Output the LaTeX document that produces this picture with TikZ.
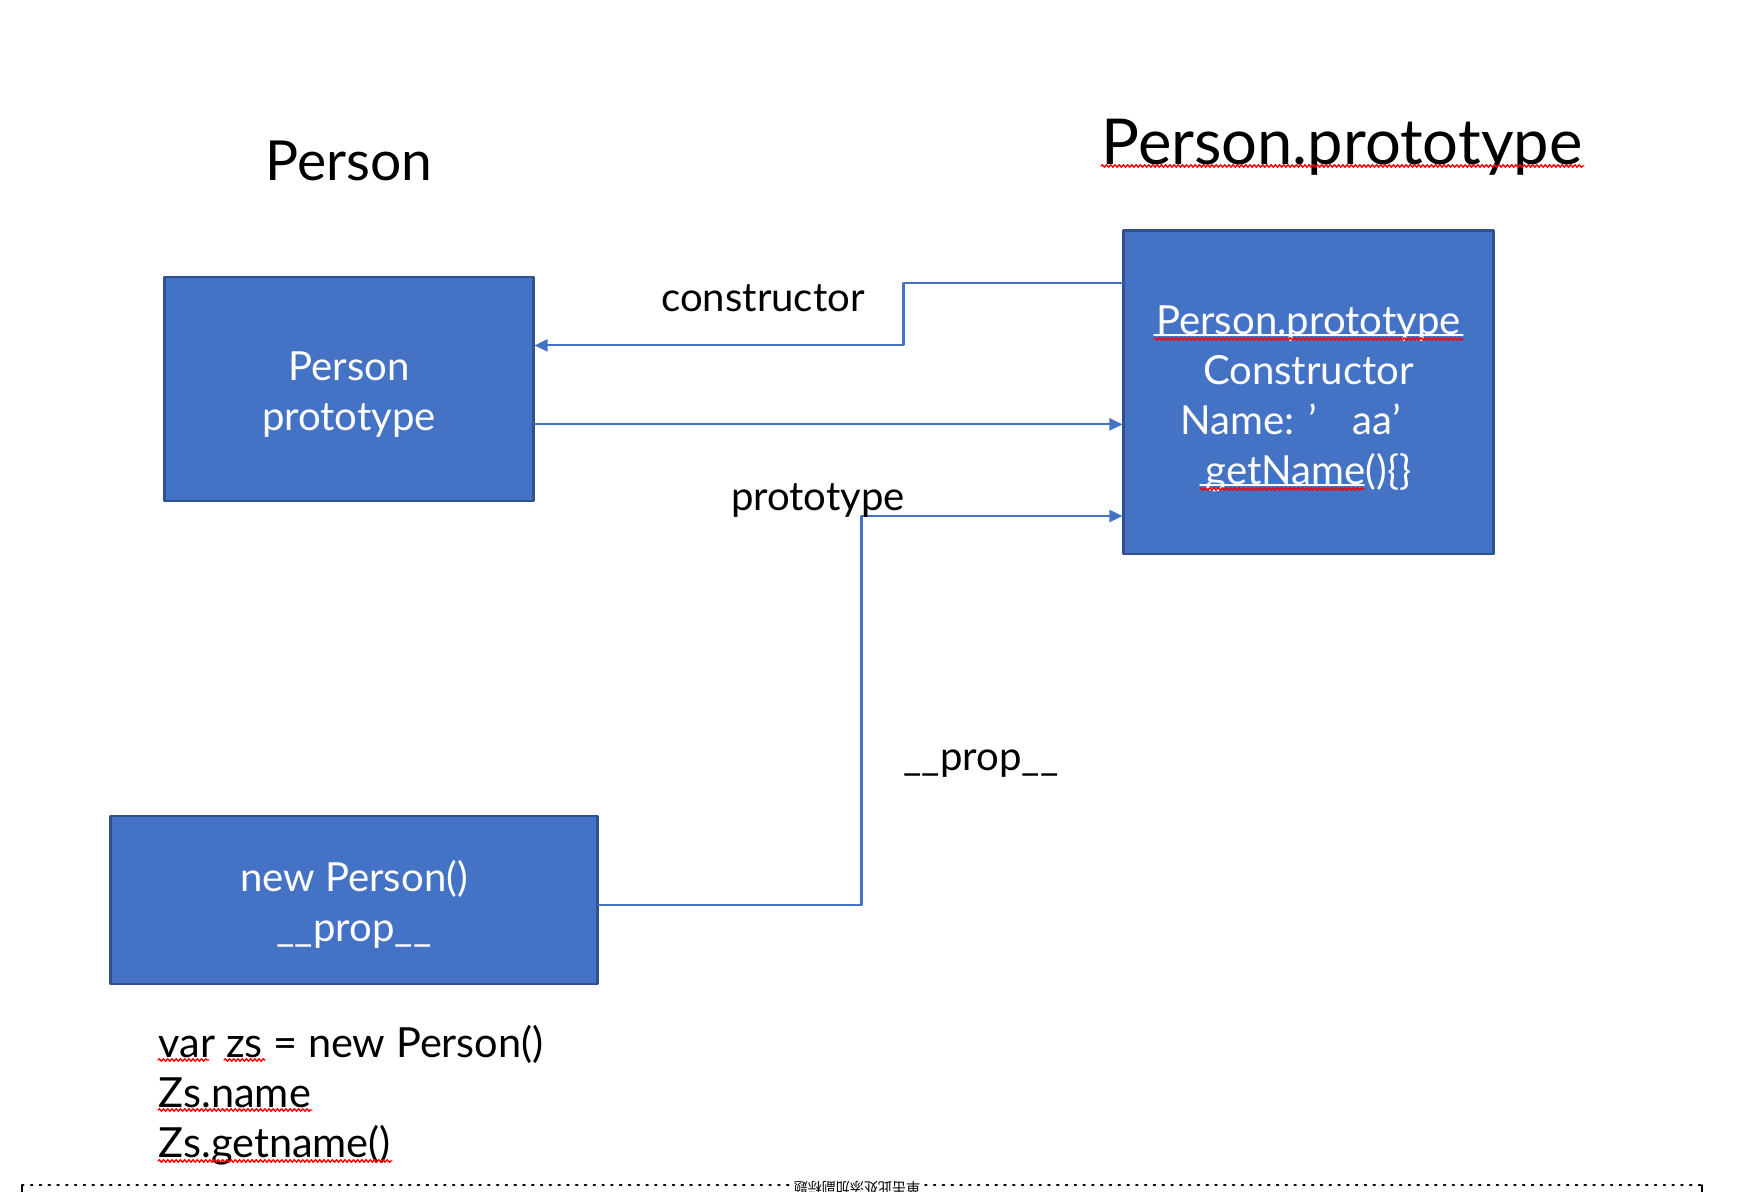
\documentclass[tikz,border=0pt]{standalone}
\usepackage{fontspec}
\setmainfont{Lato}
\newfontfamily\cjk{Noto Sans CJK SC}
\usetikzlibrary{arrows.meta,calc,decorations.pathmorphing}
\definecolor{boxblue}{HTML}{4472C4}
\definecolor{boxedge}{HTML}{2F528F}
\newcommand{\toppad}{\rule{0pt}{11.6pt}}

\begin{document}
\begin{tikzpicture}[line cap=round,line join=round,>={Triangle[length=3.7pt,width=3.4pt]},x=0.01cm,y=-0.01cm]
\tikzstyle{blockbox}=[draw=boxedge,fill=boxblue,line width=0.8pt,text=white,align=center,font=\fontsize{11.4}{14.2}\selectfont,inner sep=0pt]
\tikzstyle{link}=[draw=boxblue,line width=0.6pt,->]
\tikzstyle{lbl}=[font=\fontsize{11.4}{14.2}\selectfont,inner sep=0pt]
\tikzstyle{spell}=[draw=red,line width=0.4pt,decorate,decoration={snake,segment length=1.2pt,amplitude=0.35pt}]
\clip (0,0) rectangle (1756,1192);
\fill[white] (0,0) rectangle (1756,1192);
% titles
\node[font=\fontsize{15.7}{18}\selectfont,anchor=base] (persontitle) at (349,181) {Person};
\node[font=\fontsize{18}{21}\selectfont,anchor=base] (prototitle) at (1342,165) {Person.prototype};
% boxes
\node[blockbox,minimum width=3.68cm,minimum height=2.24cm] (person) at (349,389) {\toppad Person\\prototype};
\node[blockbox,minimum width=3.69cm,minimum height=3.23cm] (proto) at (1308.5,392.5)
  {\toppad Person.prototype\\Constructor\\Name: ’\hspace{0.9em}aa’\kern0.36cm\\getName()\{\}};
\node[blockbox,minimum width=4.86cm,minimum height=1.68cm] (zs) at (354,900) {\toppad new Person()\\\_\_prop\_\_};
% white underlines in the prototype box
\draw[white,line width=0.4pt] (1154,335) -- (1463,335);
\draw[white,line width=0.4pt] (1200,485) -- (1364,485);
% connectors
\coordinate (ctorstart) at ($(proto.north west)!0.165!(proto.south west)$);
\coordinate (ctorend) at ($(person.north east)!0.308!(person.south east)$);
\draw[link] (ctorstart) -- ++(-219,0) |- (ctorend);
\coordinate (protostart) at ($(person.north east)!0.656!(person.south east)$);
\draw[link] (protostart) -- (protostart -| proto.west);
\coordinate (propstart) at ($(zs.north east)!0.53!(zs.south east)$);
\coordinate (propend) at ($(proto.north west)!0.879!(proto.south west)$);
\draw[link] (propstart) -- ++(263,0) |- (propend);
% labels
\node[lbl] (ctorlbl) at (763,298) {constructor};
\node[lbl] (protolbl) at (818,500) {prototype};
\node[lbl] (proplbl) at (981,764) {\_\_prop\_\_};
\node[lbl,font=\fontsize{11.8}{14.2}\selectfont,align=left,anchor=west] (code) at (158,1095) {var zs = new Person()\\Zs.name\\Zs.getname()};
% spell check marks
\foreach \xa/\xb/\yy in {1101/1584/166, 1154/1463/339, 1200/1364/489, 158/209/1060, 224/265/1060, 158/312/1110, 158/392/1161}
  \draw[spell] (\xa,\yy) -- (\xb,\yy);
% footer
\draw[line width=0.5pt,dotted] (22,1185) -- (790,1185);
\draw[line width=0.5pt,dotted] (925,1185) -- (1702,1185);
\draw[line width=0.4pt] (22,1185) -- (22,1192);
\draw[line width=0.4pt] (1702,1185) -- (1702,1192);
\node[font=\cjk\fontsize{4}{4}\selectfont,rotate=180,inner sep=0pt] (subtitle) at (857,1188) {单击此处添加副标题};
\end{tikzpicture}
\end{document}
